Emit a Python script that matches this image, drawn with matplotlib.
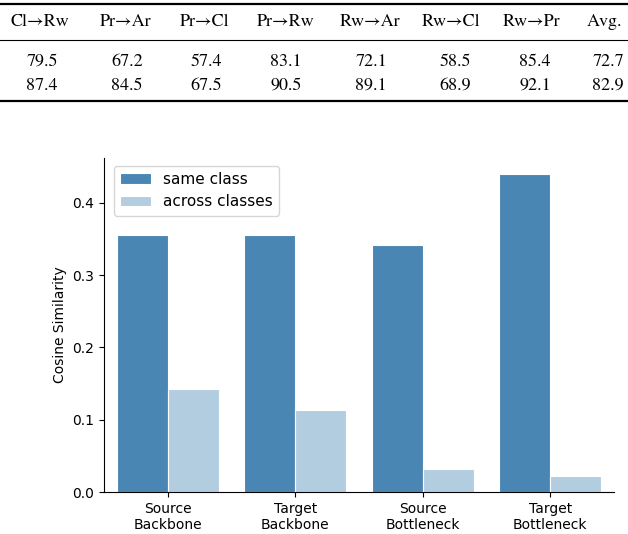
import numpy as np
import matplotlib.pyplot as plt

# table data (top of the page)
table_cols = ['Cl→Rw', 'Pr→Ar', 'Pr→Cl', 'Pr→Rw', 'Rw→Ar', 'Rw→Cl', 'Rw→Pr', 'Avg.']
table_row1 = ['79.5', '67.2', '57.4', '83.1', '72.1', '58.5', '85.4', '72.7']
table_row2 = ['87.4', '84.5', '67.5', '90.5', '89.1', '68.9', '92.1', '82.9']

# bar chart data
groups = ['Source\nBackbone', 'Target\nBackbone', 'Source\nBottleneck', 'Target\nBottleneck']
same_class = [0.355, 0.356, 0.342, 0.440]
across_classes = [0.142, 0.114, 0.032, 0.022]

W, H = 628, 534
fig = plt.figure(figsize=(W/100, H/100), dpi=100)

# ---- table part, drawn in figure pixel coords
serif = ['STIXGeneral', 'DejaVu Serif']
head_x = [40, 126, 205, 286, 370, 451, 531, 604]
num_x = [42, 127, 206, 286, 371, 455, 535, 608]

def fy(y):
    return 1 - y / H

for x, s in zip(head_x, table_cols):
    fig.text(x / W, fy(22), s, ha='center', va='center', fontsize=13, family=serif)
for x, s1, s2 in zip(num_x, table_row1, table_row2):
    fig.text(x / W, fy(62), s1, ha='center', va='center', fontsize=13, family=serif)
    fig.text(x / W, fy(86), s2, ha='center', va='center', fontsize=13, family=serif)

for y, lw in [(4, 1.6), (40, 0.8), (101, 1.6)]:
    fig.add_artist(plt.Line2D([0, 1], [fy(y), fy(y)], color='black', lw=lw,
                              transform=fig.transFigure))

# ---- bar chart
ax = fig.add_axes([104/W, (H-492)/H, (614-104)/W, (492-158)/H])
x = np.arange(len(groups))
w = 0.4
ax.bar(x - w/2, same_class, w, color='#4a86b3', edgecolor='white', lw=0.8, label='same class')
ax.bar(x + w/2, across_classes, w, color='#b3cde0', edgecolor='white', lw=0.8, label='across classes')

ax.set_xlim(-0.5, 3.5)
ax.set_ylim(0, 0.462)
ax.set_yticks([0.0, 0.1, 0.2, 0.3, 0.4])
ax.set_xticks(x)
ax.set_xticklabels(groups)
ax.tick_params(labelsize=10)
ax.set_ylabel('Cosine Similarity', fontsize=10)
ax.spines['top'].set_visible(False)
ax.spines['right'].set_visible(False)
ax.legend(loc='upper left', fontsize=11, bbox_to_anchor=(0.005, 1.0))

fig.savefig('out.png', dpi=100)
